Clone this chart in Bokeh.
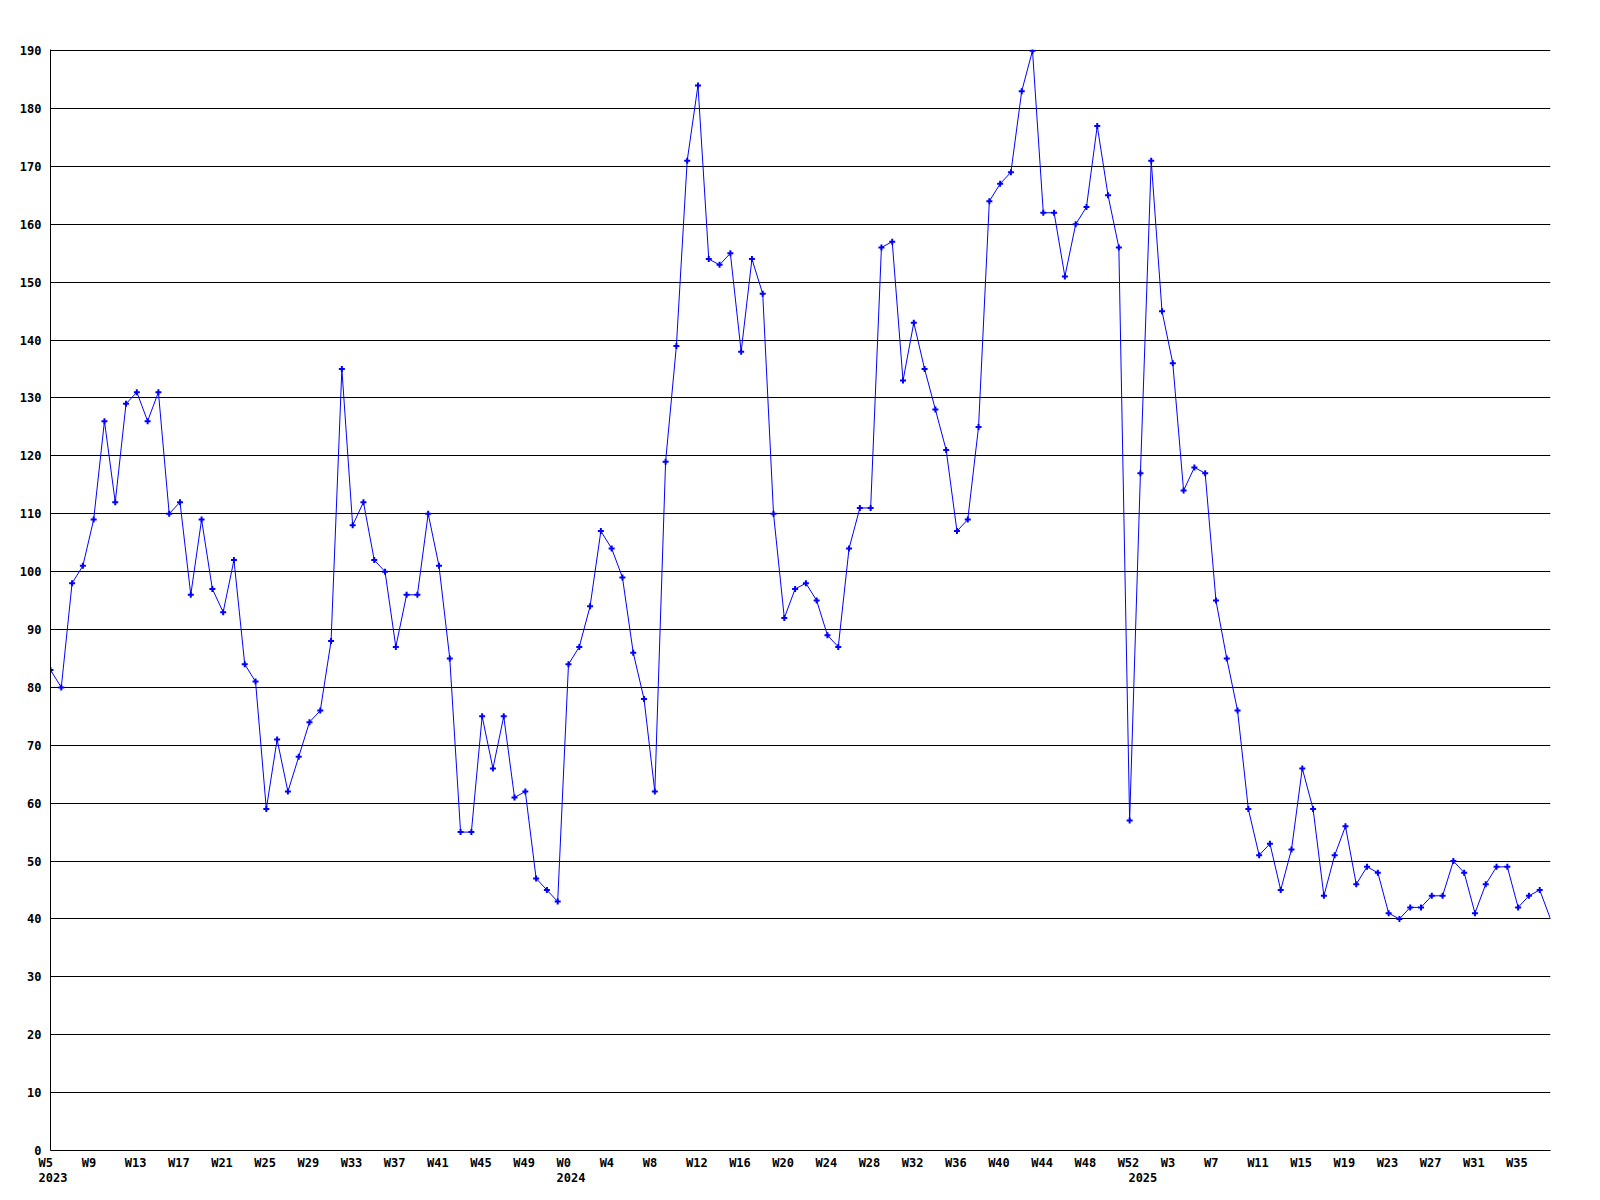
from bokeh.plotting import figure
from bokeh.models import Range1d, FixedTicker, LinearAxis
from bokeh.embed import file_html
from bokeh.resources import INLINE

# ---- data -------------------------------------------------------------
values = [
    83, 80, 98, 101, 109, 126, 112, 129, 131, 126,
    131, 110, 112, 96, 109, 97, 93, 102, 84, 81,
    59, 71, 62, 68, 74, 76, 88, 135, 108, 112,
    102, 100, 87, 96, 96, 110, 101, 85, 55, 55,
    75, 66, 75, 61, 62, 47, 45, 43, 84, 87,
    94, 107, 104, 99, 86, 78, 62, 119, 139, 171,
    184, 154, 153, 155, 138, 154, 148, 110, 92, 97,
    98, 95, 89, 87, 104, 111, 111, 156, 157, 133,
    143, 135, 128, 121, 107, 109, 125, 164, 167, 169,
    183, 190, 162, 162, 151, 160, 163, 177, 165, 156,
    57, 117, 171, 145, 136, 114, 118, 117, 95, 85,
    76, 59, 51, 53, 45, 52, 66, 59, 44, 51,
    56, 46, 49, 48, 41, 40, 42, 42, 44, 44,
    50, 48, 41, 46, 49, 49, 42, 44, 45, 40,
]
week_tick_index = [0, 4, 8, 12, 16, 20, 24, 28, 32, 36, 40, 44,
                   48, 52, 56, 60, 64, 68, 72, 76, 80, 84, 88, 92, 96, 100,
                   104, 108, 112, 116, 120, 124, 128, 132, 136]
week_tick_labels = ["W5", "W9", "W13", "W17", "W21", "W25", "W29", "W33", "W37", "W41", "W45", "W49",
                    "W0", "W4", "W8", "W12", "W16", "W20", "W24", "W28", "W32", "W36", "W40", "W44", "W48", "W52",
                    "W3", "W7", "W11", "W15", "W19", "W23", "W27", "W31", "W35"]
year_tick_index = [0, 48, 101]
year_tick_labels = ["2023", "2024", "2025"]
y_ticks = [0, 10, 20, 30, 40, 50, 60, 70, 80, 90, 100, 110, 120, 130, 140, 150, 160, 170, 180, 190]

x = list(range(len(values)))

FONT = "DejaVu Sans Mono"
FONT_PX = 12
ADV = 0.602 * FONT_PX          # monospace advance width
PAD = 4                        # all tick labels padded to 4 cells
BLUE = "#0000ff"
FRAME_W = 1500
n_int = len(values) - 1
px_per_unit = FRAME_W / n_int
# centered labels padded to equal width -> left edge ~12px before the week
center_shift = (-12 + PAD * ADV / 2) / px_per_unit

p = figure(frame_width=FRAME_W, frame_height=1101,
           x_range=Range1d(0, n_int), y_range=Range1d(0, 190.2),
           output_backend="svg", toolbar_location=None, x_axis_location=None,
           min_border_left=50, min_border_top=49, min_border_right=30, min_border_bottom=48)
p.outline_line_color = None
p.background_fill_color = "white"
p.border_fill_color = "white"

p.xgrid.visible = False
p.ygrid.ticker = FixedTicker(ticks=y_ticks)
p.ygrid.grid_line_color = "black"
p.ygrid.grid_line_alpha = 1.0
p.ygrid.grid_line_width = 1

p.yaxis.ticker = FixedTicker(ticks=y_ticks)
p.yaxis.axis_line_color = "black"
p.yaxis.major_tick_line_color = None
p.yaxis.minor_tick_line_color = None
p.yaxis.major_tick_out = 0
p.yaxis.major_tick_in = 0
p.yaxis.major_label_standoff = 9
p.yaxis.major_label_text_font = FONT
p.yaxis.major_label_text_font_style = "bold"
p.yaxis.major_label_text_font_size = f"{FONT_PX}px"
p.yaxis.major_label_text_color = "black"

p.extra_x_ranges = {"lab": Range1d(-center_shift, n_int - center_shift)}


def label_axis(ticks, labels, standoff, line):
    padded = [s + "\u00a0" * (PAD - len(s)) for s in labels]
    ax = LinearAxis(x_range_name="lab", ticker=FixedTicker(ticks=ticks),
                    major_label_overrides={t: s for t, s in zip(ticks, padded)})
    ax.axis_line_color = "black" if line else None
    ax.major_tick_line_color = None
    ax.minor_tick_line_color = None
    ax.major_tick_out = 0
    ax.major_tick_in = 0
    ax.major_label_standoff = standoff
    ax.major_label_text_font = FONT
    ax.major_label_text_font_style = "bold"
    ax.major_label_text_font_size = f"{FONT_PX}px"
    ax.major_label_text_color = "black"
    return ax


p.add_layout(label_axis(week_tick_index, week_tick_labels, 5, True), "below")
p.add_layout(label_axis(year_tick_index, year_tick_labels, 0, False), "below")

p.line(x, values, line_color=BLUE, line_width=1)
p.scatter(x[:-1], values[:-1], marker="cross", size=6, line_width=2, color=BLUE)

open("out.html", "w").write(file_html(p, INLINE))
